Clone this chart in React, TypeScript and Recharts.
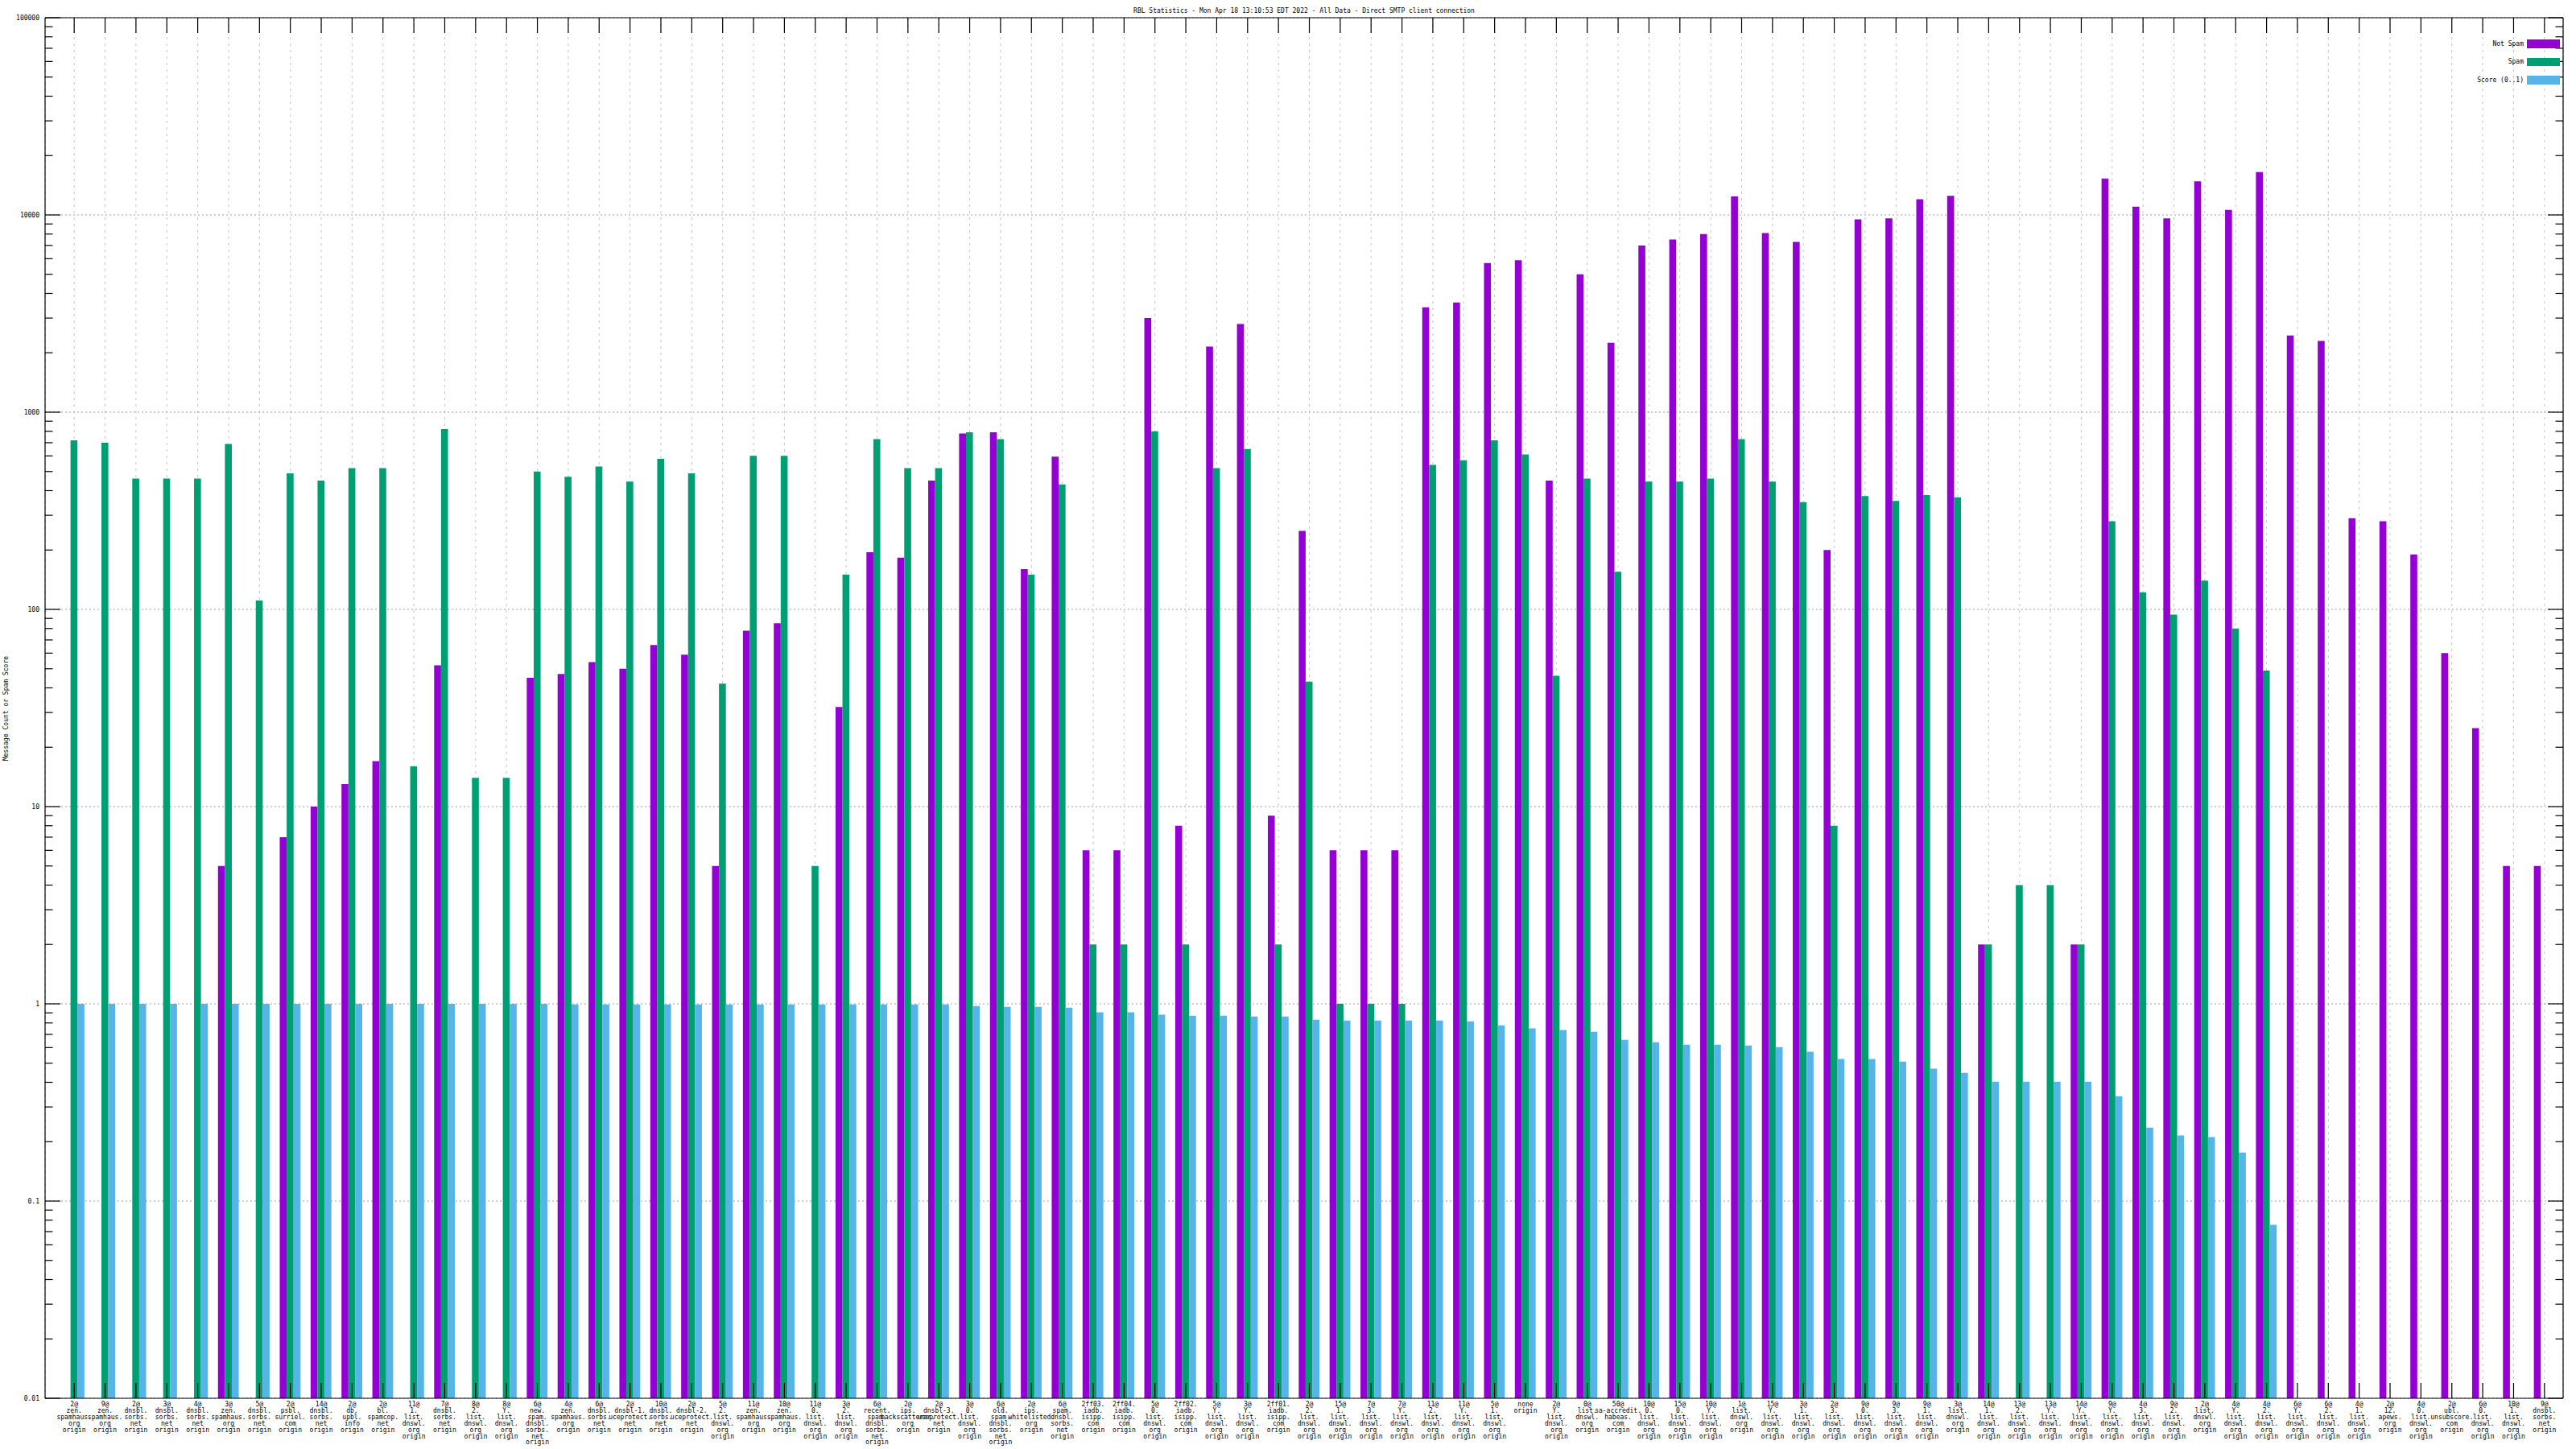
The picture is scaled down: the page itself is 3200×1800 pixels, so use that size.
import React from "react";
import {
  BarChart,
  Bar,
  XAxis,
  YAxis,
  CartesianGrid,
  Legend,
  Customized,
} from "recharts";

// RBL hit counts per list/position
const categories = [
  "2@zen.spamhaus.org origin", "9@zen.spamhaus.org origin", "2@dnsbl.sorbs.net origin",
  "3@dnsbl.sorbs.net origin", "4@dnsbl.sorbs.net origin", "3@zen.spamhaus.org origin",
  "5@dnsbl.sorbs.net origin", "2@psbl.surriel.com origin", "14@dnsbl.sorbs.net origin",
  "2@db.upbl.info origin", "2@bl.spamcop.net origin", "11@1.list.dnswl.org origin",
  "7@dnsbl.sorbs.net origin", "8@2.list.dnswl.org origin", "8@Y.list.dnswl.org origin",
  "6@new.spam.dnsbl.sorbs.net origin", "4@zen.spamhaus.org origin", "6@dnsbl.sorbs.net origin",
  "2@dnsbl-1.uceprotect.net origin", "10@dnsbl.sorbs.net origin", "2@dnsbl-2.uceprotect.net origin",
  "5@2.list.dnswl.org origin", "11@zen.spamhaus.org origin", "10@zen.spamhaus.org origin",
  "11@0.list.dnswl.org origin", "3@2.list.dnswl.org origin", "6@recent.spam.dnsbl.sorbs.net origin",
  "2@ips.backscatterer.org origin", "2@dnsbl-3.uceprotect.net origin", "3@0.list.dnswl.org origin",
  "6@old.spam.dnsbl.sorbs.net origin", "2@ips.whitelisted.org origin", "6@spam.dnsbl.sorbs.net origin",
  "2ff03.iadb.isipp.com origin", "2ff04.iadb.isipp.com origin", "5@0.list.dnswl.org origin",
  "2ff02.iadb.isipp.com origin", "5@Y.list.dnswl.org origin", "3@Y.list.dnswl.org origin",
  "2ff01.iadb.isipp.com origin", "2@2.list.dnswl.org origin", "15@1.list.dnswl.org origin",
  "7@3.list.dnswl.org origin", "7@Y.list.dnswl.org origin", "11@2.list.dnswl.org origin",
  "11@Y.list.dnswl.org origin", "5@1.list.dnswl.org origin", "none origin",
  "2@Y.list.dnswl.org origin", "0@list.dnswl.org origin", "50@sa-accredit.habeas.com origin",
  "10@0.list.dnswl.org origin", "15@0.list.dnswl.org origin", "10@Y.list.dnswl.org origin",
  "1@list.dnswl.org origin", "15@Y.list.dnswl.org origin", "3@1.list.dnswl.org origin",
  "2@3.list.dnswl.org origin", "9@0.list.dnswl.org origin", "9@3.list.dnswl.org origin",
  "9@1.list.dnswl.org origin", "3@list.dnswl.org origin", "14@1.list.dnswl.org origin",
  "13@2.list.dnswl.org origin", "13@Y.list.dnswl.org origin", "14@Y.list.dnswl.org origin",
  "9@Y.list.dnswl.org origin", "4@3.list.dnswl.org origin", "9@2.list.dnswl.org origin",
  "2@list.dnswl.org origin", "4@Y.list.dnswl.org origin", "4@2.list.dnswl.org origin",
  "6@Y.list.dnswl.org origin", "6@2.list.dnswl.org origin", "4@1.list.dnswl.org origin",
  "2@12.apews.org origin", "4@0.list.dnswl.org origin", "2@ubl.unsubscore.com origin",
  "6@0.list.dnswl.org origin", "10@1.list.dnswl.org origin", "9@dnsbl.sorbs.net origin",
];

const notSpam = [
  null, null, null, null, null, 5, null, 7, 10, 13, 17, null, 52, null, null, 45, 47, 54, 50,
  66, 59, 5, 78, 85, null, 32, 195, 183, 450, 780, 790, 160, 595, 6, 6, 3000, 8, 2150, 2800, 9,
  250, 6, 6, 6, 3400, 3600, 5700, 5900, 450, 5000, 2250, 7000, 7500, 8000, 12400, 8100, 7300, 200, 9500, 9600, 12000,
  12500, 2, null, null, 2, 15300, 11000, 9600, 14800, 10600, 16500, 2450, 2300, 290, 280, 190, 60, 25, 5, 5,
];

const spam = [
  720, 700, 460, 460, 460, 690, 111, 490, 450, 520, 520, 16, 820, 14, 14, 500, 470, 530, 445,
  580, 490, 42, 600, 600, 5, 150, 730, 520, 520, 790, 730, 150, 430, 2, 2, 800, 2, 520, 650, 2,
  43, 1, 1, 1, 540, 570, 720, 610, 46, 460, 155, 445, 445, 460, 730, 445, 350, 8, 375, 355, 380,
  370, 2, 4, 4, 2, 280, 122, 94, 140, 80, 49, null, null, null, null, null, null, null, null, null,
];

const score = [
  1, 1, 1, 1, 1, 1, 1, 1, 1, 1, 1, 1, 1, 1, 1, 1, 0.993, 0.993, 0.993,
  0.993, 0.993, 0.993, 0.993, 0.993, 0.993, 0.993, 0.993, 0.993, 0.993, 0.975, 0.966, 0.966, 0.957, 0.905, 0.905, 0.88, 0.871, 0.871, 0.863, 0.863,
  0.831, 0.823, 0.823, 0.823, 0.823, 0.816, 0.778, 0.75, 0.736, 0.722, 0.657, 0.639, 0.621, 0.621, 0.615, 0.604, 0.571, 0.525, 0.525, 0.51, 0.469,
  0.447, 0.403, 0.403, 0.403, 0.403, 0.34, 0.236, 0.215, 0.211, 0.176, 0.0757, null, null, null, null, null, null, null, null, null,
];

const decades = [0.01, 0.1, 1, 10, 100, 1000, 10000, 100000];
const minorSteps = [2, 3, 4, 5, 6, 7, 8, 9];
const yTicks = decades.flatMap((d, i) =>
  i < decades.length - 1 ? [d, ...minorSteps.map((k) => +(d * k).toPrecision(3))] : [d]
);

const PURPLE = "#9400d3";
const GREEN = "#009e73";
const BLUE = "#56b4e9";
const FONT = "'DejaVu Sans Mono', monospace";

const legendItems = [
  { label: "Not Spam", color: PURPLE },
  { label: "Spam", color: GREEN },
  { label: "Score (0..1)", color: BLUE },
];

const rows = categories.map((name, i) => ({
  name,
  notSpam: notSpam[i],
  spam: spam[i],
  score: score[i],
}));

// gnuplot breaks the label after "@", after each "." and at the space
function splitLabel(s: string) {
  return s.replace(/([@.])/g, "$1\n").replace(/ /g, "\n").split("\n").filter(Boolean);
}

function XTickBottom({ x, y, payload }: any) {
  const lines = splitLabel(String(payload.value));
  return (
    <g>
      <line x1={x} x2={x} y1={y} y2={y - 19} stroke="#000" strokeWidth={1.2} />
      <text x={x} y={y + 10} textAnchor="middle" fontFamily={FONT} fontSize={8} fill="#000">
        {lines.map((l, i) => (
          <tspan key={i} x={x} dy={i === 0 ? 0 : 7.9}>
            {l}
          </tspan>
        ))}
      </text>
    </g>
  );
}

function XTickTop({ x, y }: any) {
  return <line x1={x} x2={x} y1={y} y2={y + 19} stroke="#000" strokeWidth={1.2} />;
}

function YTickLeft({ x, y, payload }: any) {
  const major = decades.includes(payload.value);
  return (
    <g>
      <line x1={x} x2={x + (major ? 19 : 9.5)} y1={y} y2={y} stroke="#000" strokeWidth={1.2} />
      {major && (
        <text x={x - 7} y={y + 3} textAnchor="end" fontFamily={FONT} fontSize={8} fill="#000">
          {String(payload.value)}
        </text>
      )}
    </g>
  );
}

function YTickRight({ x, y, payload }: any) {
  const major = decades.includes(payload.value);
  return <line x1={x} x2={x - (major ? 19 : 9.5)} y1={y} y2={y} stroke="#000" strokeWidth={1.2} />;
}

function LegendBox() {
  return (
    <div style={{ fontFamily: FONT, fontSize: 8, color: "#000" }}>
      {legendItems.map((it) => (
        <div
          key={it.label}
          style={{ display: "flex", alignItems: "center", justifyContent: "flex-end", height: 22.5 }}
        >
          <span style={{ marginRight: 4, whiteSpace: "pre" }}>{it.label}</span>
          <span style={{ display: "inline-block", width: 41, height: 10.5, background: it.color }} />
        </div>
      ))}
    </div>
  );
}

function Titles() {
  return (
    <g fontFamily={FONT} fontSize={8} fill="#000">
      <text x={1620} y={16} textAnchor="middle">
        RBL Statistics - Mon Apr 18 13:10:53 EDT 2022 - All Data - Direct SMTP client connection
      </text>
      <text x={10} y={880} textAnchor="middle" transform="rotate(-90 10 880)">
        Message Count or Spam Score
      </text>
    </g>
  );
}

export default function App() {
  return (
    <div style={{ position: "absolute", left: 0, top: 0, width: 3200, height: 1800, background: "#fff" }}>
      <BarChart
        width={3200}
        height={1800}
        data={rows}
        margin={{ top: 21, right: 0, bottom: 0, left: 0 }}
        barGap={0}
        barSize={8.6}
      >
        <CartesianGrid
          horizontal={false}
          vertical
          stroke="#b4b4b4"
          strokeWidth={0.8}
          strokeDasharray="3 5"
        />
        <CartesianGrid
          horizontal
          vertical={false}
          horizontalValues={decades}
          stroke="#a0a0a0"
          strokeDasharray="2 3"
        />
        <XAxis
          dataKey="name"
          height={63}
          interval={0}
          padding={{ left: 17, right: 4 }}
          tickSize={0}
          tickMargin={0}
          tickLine={false}
          axisLine={{ stroke: "#000", strokeWidth: 1.2 }}
          tick={<XTickBottom />}
        />
        <XAxis
          xAxisId="top"
          orientation="top"
          dataKey="name"
          height={1}
          interval={0}
          padding={{ left: 17, right: 4 }}
          tickSize={0}
          tickMargin={0}
          tickLine={false}
          axisLine={{ stroke: "#000", strokeWidth: 1.2 }}
          tick={<XTickTop />}
        />
        <YAxis
          scale="log"
          type="number"
          domain={[0.01, 100000]}
          allowDataOverflow
          ticks={yTicks}
          interval={0}
          width={56}
          tickSize={0}
          tickMargin={0}
          tickLine={false}
          axisLine={{ stroke: "#000", strokeWidth: 1.2 }}
          tick={<YTickLeft />}
        />
        <YAxis
          yAxisId="right"
          orientation="right"
          scale="log"
          type="number"
          domain={[0.01, 100000]}
          allowDataOverflow
          ticks={yTicks}
          interval={0}
          width={16}
          tickSize={0}
          tickMargin={0}
          tickLine={false}
          axisLine={{ stroke: "#000", strokeWidth: 1.2 }}
          tick={<YTickRight />}
        />
        <Bar dataKey="notSpam" name="Not Spam" fill={PURPLE} isAnimationActive={false} />
        <Bar dataKey="spam" name="Spam" fill={GREEN} isAnimationActive={false} />
        <Bar dataKey="score" name="Score (0..1)" fill={BLUE} isAnimationActive={false} />
        <Legend
          layout="vertical"
          align="center"
          verticalAlign="middle"
          content={<LegendBox />}
          wrapperStyle={{ left: 2950, top: 43, width: 230 }}
        />
        <Customized component={<Titles />} />
      </BarChart>
    </div>
  );
}
